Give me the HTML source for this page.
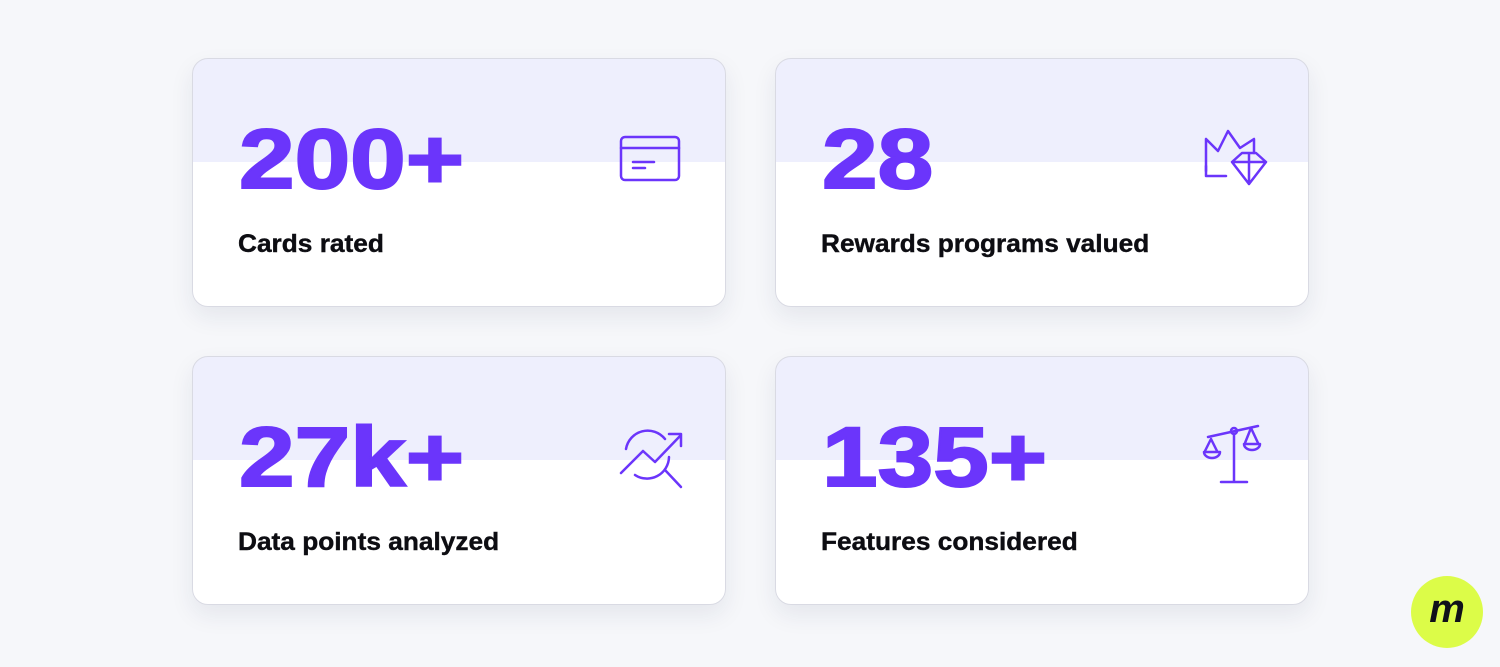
<!DOCTYPE html>
<html><head><style>
body{margin:0;width:1500px;height:667px;background:#f6f7fa;position:relative;overflow:hidden;font-family:"Liberation Sans",sans-serif}
.card{position:absolute;width:532px;height:247px;border:1px solid #d9dae3;border-radius:16px;overflow:hidden;background:linear-gradient(#eeeffd 0,#eeeffd 103px,#fff 103px);box-shadow:0 10px 24px rgba(30,40,80,0.08)}
.num{position:absolute;left:46px;top:58px;font-size:84px;font-weight:bold;color:#6b35fb;letter-spacing:0;line-height:1;transform:scaleX(1.19);transform-origin:left top;-webkit-text-stroke:2px #6b35fb}
.lab{position:absolute;left:45px;top:171px;font-size:25px;font-weight:bold;color:#0d0d12;letter-spacing:0;transform:scaleX(1.05);transform-origin:left top;-webkit-text-stroke:0.4px #0d0d12}
svg.ic{position:absolute}
.logo{position:absolute;left:1411px;top:576px;width:72px;height:72px;border-radius:50%;background:#dcfc48;font:italic bold 40px "Liberation Sans",sans-serif;color:#10101a;text-align:center;line-height:66px}
</style></head><body>
<div class="card" style="left:192px;top:58px">
<div class="num">200+</div><div class="lab">Cards rated</div>
<svg class="ic" width="70" height="60" viewBox="0 0 70 60" style="left:420px;top:70px"><g fill="none" stroke="#6b35fb" stroke-width="2.5" stroke-linecap="round"><rect x="8" y="8" width="58" height="43" rx="4"/><line x1="8" y1="19" x2="66" y2="19"/><line x1="20" y1="33" x2="41" y2="33"/><line x1="20" y1="39" x2="32" y2="39"/></g></svg>
</div>
<div class="card" style="left:775px;top:58px">
<div class="num">28</div><div class="lab">Rewards programs valued</div>
<svg class="ic" width="80" height="80" viewBox="0 0 80 80" style="left:420px;top:62px"><g fill="none" stroke="#6b35fb" stroke-width="2.5" stroke-linecap="round" stroke-linejoin="round"><path d="M10 18 L10 50 M10 18 L22 30 L32 10 L44 27 L58 18 L58 32"/><path d="M10 45 L10 55 L30 55"/><path d="M36 41 L46 32 L60 32 L70 41 L53 63 Z M36 41 L70 41 M53 32 L53 63"/></g></svg>
</div>
<div class="card" style="left:192px;top:356px">
<div class="num">27k+</div><div class="lab">Data points analyzed</div>
<svg class="ic" width="80" height="80" viewBox="0 0 80 80" style="left:420px;top:62px"><g fill="none" stroke="#6b35fb" stroke-width="2.5" stroke-linecap="round" stroke-linejoin="round"><path d="M13 30 A22 22 0 0 1 52 20"/><path d="M22 56 A22 22 0 0 0 56 38"/><path d="M8 54 L30 32 L42 43 L68 16 M56 15 L68 15 L68 27"/><path d="M52 51 L68 68"/></g></svg>
</div>
<div class="card" style="left:775px;top:356px">
<div class="num">135+</div><div class="lab">Features considered</div>
<svg class="ic" width="80" height="80" viewBox="0 0 80 80" style="left:420px;top:62px"><g fill="none" stroke="#6b35fb" stroke-width="2.5" stroke-linecap="round" stroke-linejoin="round"><path d="M12 18 L62 7"/><circle cx="38" cy="12" r="3"/><path d="M38 15 L38 63 M25 63 L51 63"/><path d="M15 20 L9 32 M15 20 L21 32 M8 33 L24 33 A8 6 0 0 1 8 33"/><path d="M55 9 L49 24 M55 9 L62 24 M48 25 L64 25 A8 6 0 0 1 48 25"/></g></svg>
</div>
<div class="logo">m</div>
</body></html>
